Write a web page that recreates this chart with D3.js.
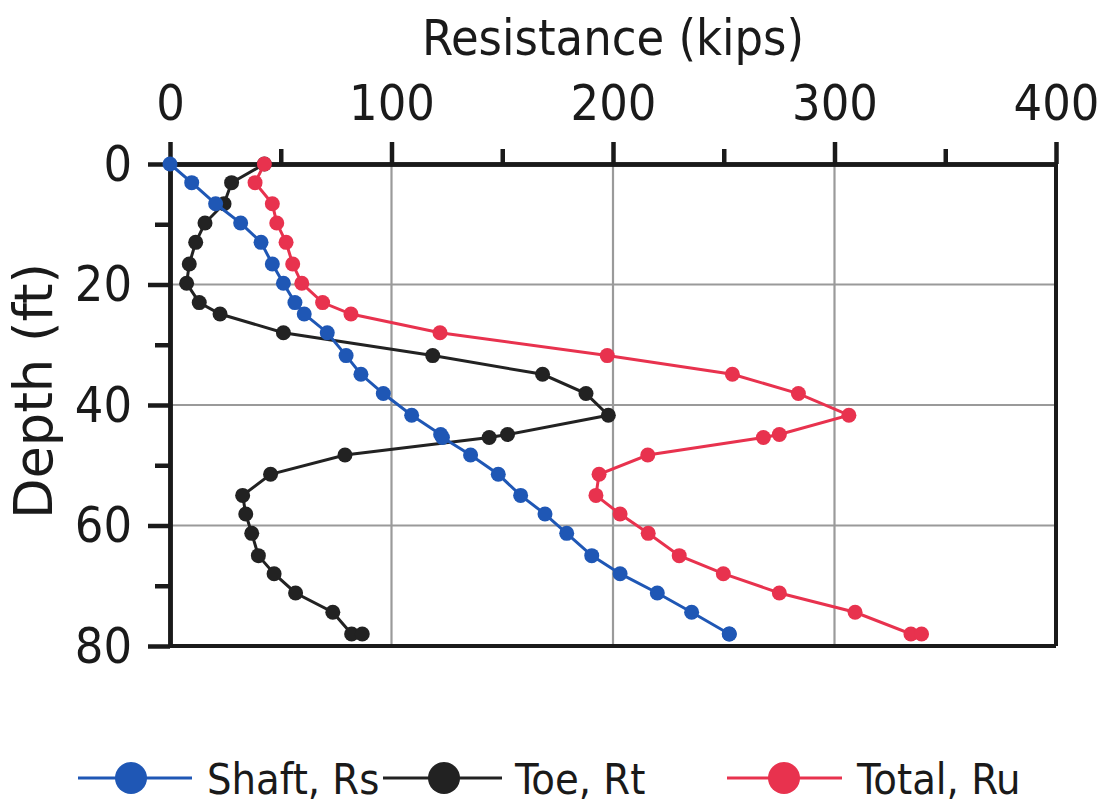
<!DOCTYPE html>
<html>
<head>
<meta charset="utf-8">
<script src="https://cdn.jsdelivr.net/npm/d3@7"></script>
<style>
  html, body { margin: 0; padding: 0; background: #fff; }
  svg text { font-family: "DejaVu Sans Condensed", "DejaVu Sans", sans-serif; font-stretch: condensed; fill: #1a1a1a; }
</style>
</head>
<body>
<svg id="chart" width="1105" height="807"></svg>
<script>
// ---- Data ----
const depth = [0, 3.1, 6.6, 9.8, 13.0, 16.6, 19.8, 23.0, 24.9, 28.0, 31.8, 34.9, 38.1, 41.7, 44.9, 45.4, 48.3, 51.5, 55.0, 58.1, 61.3, 65.0, 68.0, 71.2, 74.4, 78.0, 78.0];
const shaft = [0, 9.8, 20.6, 31.9, 41.1, 46.2, 51.2, 56.4, 60.6, 71.0, 79.5, 86.2, 96.3, 109.1, 122.2, 123.0, 135.7, 148.2, 158.3, 169.3, 179.1, 190.4, 203.2, 220.0, 235.5, 252.5, 252.5];
const toe = [42.6, 27.8, 24.4, 15.8, 11.6, 8.7, 7.5, 13.2, 22.6, 51.2, 118.6, 168.2, 187.8, 197.9, 152.4, 144.1, 79.0, 45.4, 32.8, 34.2, 36.9, 39.9, 47.0, 56.7, 73.5, 82.0, 86.8];
const total = [42.6, 38.4, 46.2, 48.2, 52.4, 55.4, 59.5, 68.9, 81.7, 121.9, 197.4, 253.9, 283.7, 306.5, 275.1, 267.9, 215.7, 193.7, 192.3, 203.2, 215.9, 229.9, 249.8, 275.1, 309.3, 334.5, 339.3];

const seriesNames = ["Shaft, Rs", "Toe, Rt", "Total, Ru"];
const seriesColors = ["#1f57b5", "#222222", "#e8324e"];
const xMajorTicks = [0, 100, 200, 300, 400];
const xMinorTicks = [50, 150, 250, 350];
const yMajorTicks = [0, 20, 40, 60, 80];
const yMinorTicks = [10, 30, 50, 70];
const xTitle = "Resistance (kips)";
const yTitle = "Depth (ft)";

// ---- Layout ----
const svg = d3.select("#chart");
const pLeft = 170, pRight = 1056, pTop = 164, pBottom = 646;
const x = d3.scaleLinear().domain([0, 400]).range([pLeft, pRight]);
const y = d3.scaleLinear().domain([0, 80]).range([pTop, pBottom]);

// gridlines
const grid = svg.append("g");
grid.selectAll("line.gx").data(xMajorTicks.slice(1, -1)).join("line")
  .attr("class", "gx")
  .attr("x1", d => x(d)).attr("x2", d => x(d)).attr("y1", pTop).attr("y2", pBottom)
  .attr("stroke", "#9a9a9a").attr("stroke-width", 2.2);
grid.selectAll("line.gy").data(yMajorTicks.slice(1, -1)).join("line")
  .attr("class", "gy")
  .attr("x1", pLeft).attr("x2", pRight).attr("y1", d => y(d)).attr("y2", d => y(d))
  .attr("stroke", "#9a9a9a").attr("stroke-width", 2.2);

// frame right & bottom
svg.append("line").attr("x1", pRight).attr("x2", pRight).attr("y1", pTop).attr("y2", pBottom)
  .attr("stroke", "#1a1a1a").attr("stroke-width", 4);
svg.append("line").attr("x1", pLeft).attr("x2", pRight).attr("y1", pBottom).attr("y2", pBottom)
  .attr("stroke", "#1a1a1a").attr("stroke-width", 4);

// axes
function styleAxis(g) {
  g.select(".domain").attr("stroke", "#1a1a1a").attr("stroke-width", 4.5);
  g.selectAll(".tick line").attr("stroke", "#1a1a1a").attr("stroke-width", 4.5);
}
const xAxisMajor = svg.append("g").attr("transform", `translate(0,${pTop})`)
  .call(d3.axisTop(x).tickValues(xMajorTicks).tickSize(22).tickSizeOuter(0).tickPadding(22).tickFormat(d3.format("d")));
styleAxis(xAxisMajor);
xAxisMajor.selectAll(".tick text").attr("font-size", 50);
const xAxisMinor = svg.append("g").attr("transform", `translate(0,${pTop})`)
  .call(d3.axisTop(x).tickValues(xMinorTicks).tickSize(15).tickSizeOuter(0).tickFormat(""));
styleAxis(xAxisMinor);

const yAxisMajor = svg.append("g").attr("transform", `translate(${pLeft},0)`)
  .call(d3.axisLeft(y).tickValues(yMajorTicks).tickSize(22).tickSizeOuter(0).tickPadding(16).tickFormat(d3.format("d")));
styleAxis(yAxisMajor);
yAxisMajor.selectAll(".tick text").attr("font-size", 50);
const yAxisMinor = svg.append("g").attr("transform", `translate(${pLeft},0)`)
  .call(d3.axisLeft(y).tickValues(yMinorTicks).tickSize(15).tickSizeOuter(0).tickFormat(""));
styleAxis(yAxisMinor);
svg.selectAll(".tick text").style("font-family", '"DejaVu Sans Condensed", "DejaVu Sans", sans-serif').attr("fill", "#1a1a1a");

// titles
svg.append("text").attr("x", (pLeft + pRight) / 2).attr("y", 55)
  .attr("text-anchor", "middle").attr("font-size", 50).text(xTitle);
svg.append("text").attr("transform", `translate(52,391) rotate(-90)`)
  .attr("text-anchor", "middle").attr("font-size", 54)
  .attr("textLength", 256).attr("lengthAdjust", "spacingAndGlyphs").text(yTitle);

// series
const seriesData = [shaft, toe, total];
const line = d3.line().x(d => x(d.v)).y(d => y(d.d));
const order = [1, 0, 2];
order.forEach(i => {
  const pts = depth.map((d, j) => ({ d: d, v: seriesData[i][j] }));
  const g = svg.append("g");
  g.append("path").datum(pts).attr("d", line).attr("fill", "none")
    .attr("stroke", seriesColors[i]).attr("stroke-width", 3);
  g.selectAll("circle").data(pts).join("circle")
    .attr("cx", d => x(d.v)).attr("cy", d => y(d.d)).attr("r", 7.5)
    .attr("fill", seriesColors[i]);
});

// legend
const legendItems = [
  { lx1: 78, lx2: 192, cx: 131, tx: 207 },
  { lx1: 383, lx2: 502, cx: 444, tx: 515 },
  { lx1: 727, lx2: 842, cx: 784, tx: 857 }
];
const ly = 778;
const lg = svg.append("g");
seriesNames.forEach((name, i) => {
  const it = legendItems[i];
  lg.append("line").attr("x1", it.lx1).attr("x2", it.lx2).attr("y1", ly).attr("y2", ly)
    .attr("stroke", seriesColors[i]).attr("stroke-width", 3);
  lg.append("circle").attr("cx", it.cx).attr("cy", ly).attr("r", 16).attr("fill", seriesColors[i]);
  lg.append("text").attr("x", it.tx).attr("y", ly + 16).attr("font-size", 43).text(name);
});
</script>
</body>
</html>
